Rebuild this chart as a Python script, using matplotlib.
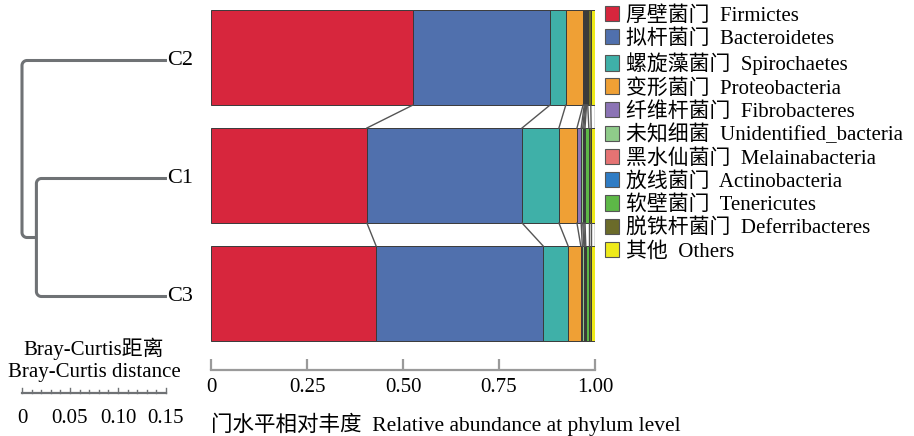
import numpy as np
import matplotlib.pyplot as plt
from matplotlib.patches import Patch

plt.rcParams['font.family'] = ['Liberation Serif', 'Noto Sans CJK SC']

# samples in dendrogram order (top to bottom)
samples = ['C2', 'C1', 'C3']

phyla_cn = ['厚壁菌门', '拟杆菌门', '螺旋藻菌门', '变形菌门', '纤维杆菌门', '未知细菌',
            '黑水仙菌门', '放线菌门', '软壁菌门', '脱铁杆菌门', '其他']
phyla_en = ['Firmictes', 'Bacteroidetes', 'Spirochaetes', 'Proteobacteria', 'Fibrobacteres',
            'Unidentified_bacteria', 'Melainabacteria', 'Actinobacteria', 'Tenericutes',
            'Deferribacteres', 'Others']
colors = ['#D7263D', '#5070AD', '#3FB0A8', '#EFA035', '#8B73B5', '#8FCB8A',
          '#E57373', '#2F7CC4', '#5DB847', '#6B6B2A', '#EEEA1A']

# relative abundance per phylum
c2 = [0.526, 0.357, 0.041, 0.045, 0.003, 0.002, 0.002, 0.002, 0.003, 0.008, 0.011]
c1 = [0.406, 0.404, 0.096, 0.047, 0.011, 0.004, 0.003, 0.003, 0.010, 0.006, 0.010]
c3 = [0.430, 0.435, 0.065, 0.033, 0.004, 0.004, 0.002, 0.003, 0.008, 0.006, 0.010]
abund = [c2, c1, c3]

# Bray-Curtis merge heights: C1+C3, then with C2
h_c1c3 = 0.136
h_root = 0.151

xticks = [0, 0.25, 0.50, 0.75, 1.00]
xticklabels = ['0', '0.25', '0.50', '0.75', '1.00']
scale_ticks = [0, 0.05, 0.10, 0.15]
scale_labels = ['0', '0.05', '0.10', '0.15']

W, H = 914, 436
fig = plt.figure(figsize=(W / 100, H / 100), dpi=100)

# ---- stacked bars ----
bar_h = 95 / 118
ax = fig.add_axes([211 / W, 1 - 370 / H, 384 / W, 362 / H])
for i, row in enumerate(abund):
    left = 0
    for j, v in enumerate(row):
        ax.barh(i, v, left=left, height=bar_h, color=colors[j],
                edgecolor='#3a3a3a', linewidth=0.7)
        left += v

# lines linking the same boundaries between neighbouring bars
for i in range(len(abund) - 1):
    cu = np.cumsum(abund[i])
    cl = np.cumsum(abund[i + 1])
    for a, b in zip(cu, cl):
        ax.plot([a, b], [i + bar_h / 2, i + 1 - bar_h / 2], color='#555555', lw=1.0)

top = -(57.5 - 8) / 118
ax.set_ylim(top + 362 / 118, top)
ax.set_xlim(0, 1)
ax.set_yticks([])
ax.set_xticks(xticks)
ax.set_xticklabels(xticklabels, fontsize=15)
for s in ['left', 'right', 'top']:
    ax.spines[s].set_visible(False)
ax.spines['bottom'].set_color('#9a9a9a')
ax.spines['bottom'].set_linewidth(1.6)
ax.spines['bottom'].set_bounds(0, 1)
ax.tick_params(axis='x', direction='in', length=8, width=1.6, color='#9a9a9a', pad=6)
ax.patch.set_alpha(0)

fig.text(211 / W, 1 - 424 / H, '门水平相对丰度  Relative abundance at phylum level',
         fontsize=15.5, ha='left', va='center')

# ---- legend ----
handles = [Patch(facecolor=c, edgecolor='#555555', linewidth=0.8) for c in colors]
labels = [f'{cn}  {en}' for cn, en in zip(phyla_cn, phyla_en)]
fig.legend(handles, labels, loc='upper left', bbox_to_anchor=(605 / W, 1 - 6 / H),
           frameon=False, fontsize=15, handlelength=0.65, handleheight=0.75,
           handletextpad=0.35, labelspacing=0.16, borderaxespad=0, borderpad=0)

# ---- dendrogram ----
px_per_unit = 960
dx0 = -22 / px_per_unit
axd = fig.add_axes([0, 0, 210 / W, 1])
axd.set_xlim(dx0, dx0 + 210 / px_per_unit)
yt = -(57.5 + 3) / 118
axd.set_ylim(yt + H / 118, yt)
axd.axis('off')

leaf_x = h_root
node13_x = h_root - h_c1c3
root_x = 0.0
rx, ry = 5 / px_per_unit, 5 / 118


def link(xj, ya, xa, yb, xb):
    # bracket from (xa, ya) to (xb, yb) joined at xj, with rounded corners
    t = np.linspace(np.pi / 2, np.pi, 12)
    up_x = xj + rx + rx * np.cos(t)
    up_y = ya + ry - ry * np.sin(t)
    t2 = np.linspace(np.pi, 3 * np.pi / 2, 12)
    lo_x = xj + rx + rx * np.cos(t2)
    lo_y = yb - ry - ry * np.sin(t2)
    xs = np.concatenate([[xa], up_x, lo_x, [xb]])
    ys = np.concatenate([[ya], up_y, lo_y, [yb]])
    return xs, ys


leaf_y = {s: k for k, s in enumerate(samples)}
y13 = (leaf_y['C1'] + leaf_y['C3']) / 2
for xs, ys in [link(node13_x, leaf_y['C1'], leaf_x, leaf_y['C3'], leaf_x),
               link(root_x, leaf_y['C2'], leaf_x, y13, node13_x)]:
    axd.plot(xs, ys, color='#6f7275', lw=2.2, solid_capstyle='butt', solid_joinstyle='round')

for s in samples:
    axd.text(leaf_x, leaf_y[s], s, fontsize=16, ha='left', va='center')

# distance scale
ys_bar = (393 - 60.5) / 118
axd.plot([0, 0.15], [ys_bar, ys_bar], color='#6f7275', lw=1.6)
for v in np.arange(0, 0.1501, 0.01):
    major = abs(v / 0.05 - round(v / 0.05)) < 1e-6
    tl = (5 if major else 3) / 118
    axd.plot([v, v], [ys_bar, ys_bar - tl], color='#6f7275', lw=1.0)
for v, lab in zip(scale_ticks, scale_labels):
    axd.text(v, (418 - 60.5) / 118, lab, fontsize=15, ha='center', va='center')
axd.text(0.075, (349 - 60.5) / 118, 'Bray-Curtis距离', fontsize=15, ha='center', va='center')
axd.text(0.075, (372 - 60.5) / 118, 'Bray-Curtis distance', fontsize=15, ha='center', va='center')

fig.savefig('out.png', dpi=100)
